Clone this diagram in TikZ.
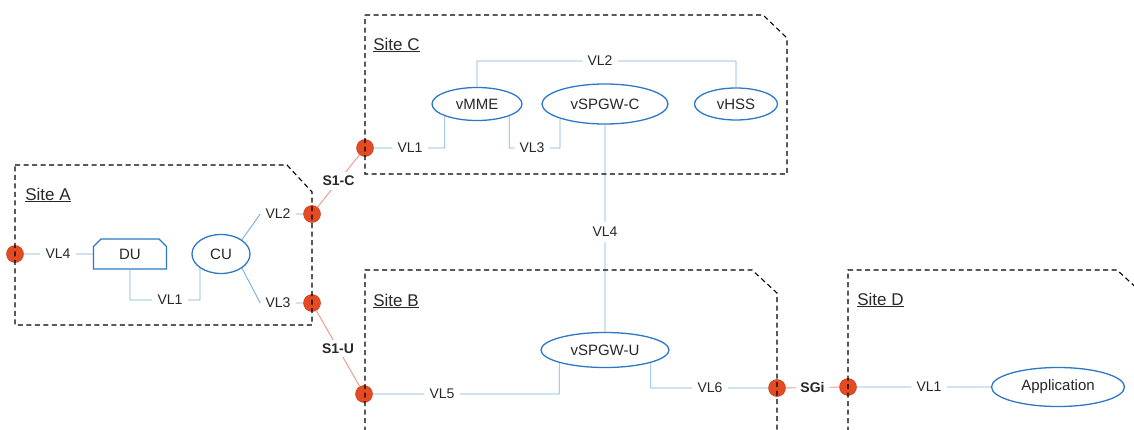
\documentclass[tikz,border=0pt]{standalone}
\usepackage{fontspec}
\setmainfont{Liberation Sans}
\usepackage{tikz}
\usetikzlibrary{shapes.geometric,shapes.misc,positioning,calc}

\definecolor{dotred}{RGB}{228,75,35}
\definecolor{linkred}{RGB}{242,150,128}
\definecolor{vnfblue}{RGB}{44,120,198}
\definecolor{vlblue}{RGB}{120,175,225}
\definecolor{txtgray}{RGB}{40,40,40}

\begin{document}
\begin{tikzpicture}[x=1pt, y=-1pt, semithick, text=txtgray]
\tikzstyle{site}=[draw=black, dashed, dash pattern=on 5pt off 3.5pt, line width=1.1pt]
\tikzstyle{sitelabel}=[anchor=west, font=\fontsize{17}{20}\selectfont, inner sep=0pt]
\tikzstyle{vnf}=[ellipse, draw=vnfblue, line width=1.3pt, fill=white, inner sep=0pt, font=\fontsize{15}{18}\selectfont]
\tikzstyle{port}=[circle, fill=dotred, draw=dotred!85!black, line width=0.5pt, minimum size=17pt, inner sep=0pt]
\tikzstyle{vl}=[fill=white, inner sep=5pt, font=\fontsize{14}{17}\selectfont]
\tikzstyle{ref}=[fill=white, inner sep=4pt, font=\fontsize{14}{17}\selectfont\bfseries]
\tikzstyle{vlink}=[draw=vlblue, line width=0.9pt]
\tikzstyle{rlink}=[draw=linkred, line width=0.9pt]

\useasboundingbox (0,0) rectangle (1134,430);

\node[sitelabel] (siteA) at (25,195)  {\underline{Site A}};
\node[sitelabel] (siteC) at (373,45)  {\underline{Site C}};
\node[sitelabel] (siteB) at (373,301) {\underline{Site B}};
\node[sitelabel] (siteD) at (857,300) {\underline{Site D}};

% site A
\node[draw=vnfblue, line width=1.3pt, chamfered rectangle, chamfered rectangle corners={north west,north east},
      chamfered rectangle xsep=4pt, minimum width=73pt, minimum height=30pt, inner sep=0pt,
      font=\fontsize{15}{18}\selectfont] (du) at (130,254) {DU};
\node[vnf, minimum width=58pt, minimum height=39pt] (cu) at (221,254) {CU};
\node[vl] (vl4a) at (58,254)  {VL4};
\node[vl] (vl1a) at (170,300) {VL1};
\node[vl] (vl2a) at (278,214) {VL2};
\node[vl] (vl3a) at (278,303) {VL3};

% site C
\node[vnf, minimum width=90pt, minimum height=33pt]  (vmme)  at (477,104) {vMME};
\node[vnf, minimum width=126pt, minimum height=40pt] (vsgwc) at (605,104) {vSPGW-C};
\node[vnf, minimum width=83pt, minimum height=32pt]  (vhss)  at (736,104) {vHSS};
\node[vl] (vl2c) at (600,61)  {VL2};
\node[vl] (vl1c) at (410,148) {VL1};
\node[vl] (vl3c) at (532,148) {VL3};
\node[vl] (vl4c) at (605,232) {VL4};

% site B
\node[vnf, minimum width=128pt, minimum height=35pt] (vsgwu) at (605,350) {vSPGW-U};
\node[vl] (vl5b) at (442,394) {VL5};
\node[vl] (vl6b) at (710,388) {VL6};

% site D
\node[vnf, minimum width=133pt, minimum height=39pt] (app) at (1058,387) {Application};
\node[vl] (vl1d) at (929,387) {VL1};

% ports
\node[port] (pA)  at (15,254)  {};
\node[port] (pA2) at (312,214) {};
\node[port] (pA3) at (312,303) {};
\node[port] (pC)  at (365,148) {};
\node[port] (pB)  at (364,394) {};
\node[port] (pB2) at (777,388) {};
\node[port] (pD)  at (848,387) {};

% virtual links
\path[vlink]
(pA) -- (vl4a) -- (du)
(du.south) |- (vl1a) -| (cu.south west)
(cu.north east) -- (vl2a.west)
(cu.south east) -- (vl3a.west)
(vl2a) -- (pA2)
(vl3a) -- (pA3)
(vmme.north) |- (vl2c) -| (vhss.north)
(pC) -- (vl1c) -| (vmme.south west)
(vmme.south east) |- (vl3c) -| (vsgwc.south west)
(vsgwc) -- (vl4c) -- (vsgwu)
(pB) -- (vl5b) -| (vsgwu.south west)
(vsgwu.south east) |- (vl6b) -- (pB2)
(pD) -- (vl1d) -- (app);

% reference points
\path[rlink]
(pA2) -- node[ref] (s1c) {S1-C} (pC)
(pA3) -- node[ref] (s1u) {S1-U} (pB)
(pB2) -- node[ref] (sgi) {SGi} (pD);

% sites
\draw[site] (15,165) -- (287,165) -- (312,192) -- (312,325) -- (15,325) -- cycle;
\draw[site] (365,15) -- (763,15) -- (787,38) -- (787,174) -- (365,174) -- cycle;
\draw[site] (365,440) -- (365,270) -- (752,270) -- (777,293) -- (777,440);
\draw[site] (848,440) -- (848,270) -- (1117,270) -- (1142,293);
\end{tikzpicture}
\end{document}
